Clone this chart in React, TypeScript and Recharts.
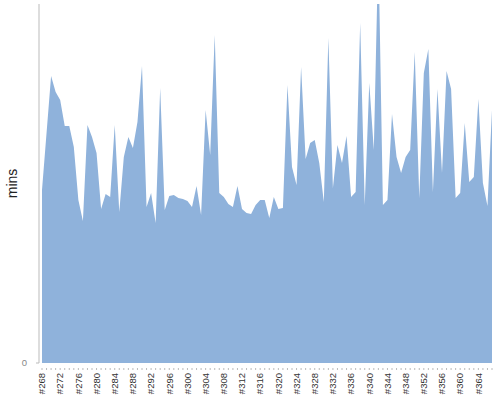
import { AreaChart, Area, XAxis, YAxis, Label } from 'recharts';

// build numbers along the bottom
const builds = [
  '#268', '#269', '#270', '#271', '#272', '#273', '#274', '#275', '#276', '#277',
  '#278', '#279', '#280', '#281', '#282', '#283', '#284', '#285', '#286', '#287',
  '#288', '#289', '#290', '#291', '#292', '#293', '#294', '#295', '#296', '#297',
  '#298', '#299', '#300', '#301', '#302', '#303', '#304', '#305', '#306', '#307',
  '#308', '#309', '#310', '#311', '#312', '#313', '#314', '#315', '#316', '#317',
  '#318', '#319', '#320', '#321', '#322', '#323', '#324', '#325', '#326', '#327',
  '#328', '#329', '#330', '#331', '#332', '#333', '#334', '#335', '#336', '#337',
  '#338', '#339', '#340', '#341', '#342', '#343', '#344', '#345', '#346', '#347',
  '#348', '#349', '#350', '#351', '#352', '#353', '#354', '#355', '#356', '#357',
  '#358', '#359', '#360', '#361', '#362', '#363', '#364', '#365', '#366', '#367',
];

// build duration in minutes
const buildMins = [
  17.3, 23.0, 28.7, 27.1, 26.3, 23.7, 23.7, 21.6, 16.3, 14.2,
  23.8, 22.6, 21.0, 15.4, 16.9, 16.6, 23.8, 15.1, 20.6, 22.6,
  21.5, 24.1, 29.7, 15.6, 17.0, 14.0, 27.5, 15.3, 16.7, 16.8,
  16.5, 16.4, 16.2, 15.6, 17.7, 14.8, 25.3, 20.8, 32.8, 17.0,
  16.6, 15.9, 15.6, 17.7, 15.4, 15.0, 14.9, 15.8, 16.3, 16.3,
  14.5, 16.6, 15.4, 15.5, 27.8, 19.6, 17.8, 29.6, 20.4, 22.0,
  22.3, 20.0, 16.1, 32.5, 17.5, 21.8, 20.0, 22.7, 16.6, 17.1,
  34.0, 15.8, 28.0, 21.3, 41.7, 15.8, 16.3, 24.9, 20.6, 19.0,
  20.6, 21.3, 31.1, 16.5, 29.0, 31.4, 17.1, 27.4, 19.0, 29.2,
  27.4, 16.5, 17.0, 24.0, 18.1, 18.6, 26.4, 18.0, 15.7, 25.3,
];

const yTicks = [0];
const yMax = 35.9;
const labelEvery = 4;

const data = builds.map((build, i) => ({ build, mins: buildMins[i] }));

const font = '"Liberation Sans", Arial, sans-serif';

function BuildTick(props: { x: number; y: number; index: number; payload: { value: string } }) {
  const { x, y, index, payload } = props;
  const ty = y + 10;
  return (
    <g>
      <line x1={x} x2={x} y1={y + 5} y2={y + 7} stroke="#bbb" />
      {index % labelEvery === 0 && (
        <text
          x={x}
          y={ty}
          dy="0.35em"
          transform={`rotate(-90, ${x}, ${ty})`}
          textAnchor="end"
          fontSize={9.5}
          fontFamily={font}
          fill="#333"
        >
          {payload.value}
        </text>
      )}
    </g>
  );
}

export default function App() {
  return (
    <div style={{ position: 'absolute', left: 0, top: 0 }}>
      <AreaChart
        width={500}
        height={400}
        data={data}
        margin={{ top: 4, right: 8, bottom: 0, left: 0 }}
      >
        <XAxis
          dataKey="build"
          interval={0}
          height={37}
          axisLine={false}
          tickLine={false}
          tickSize={0}
          tickMargin={0}
          padding={{ left: 3, right: 0 }}
          tick={(p: any) => <BuildTick {...p} />}
        />
        <YAxis
          width={39}
          domain={[0, yMax]}
          allowDataOverflow
          ticks={yTicks}
          axisLine={{ stroke: '#bbb' }}
          tickLine={{ stroke: '#bbb' }}
          tickSize={3}
          tickMargin={9}
          tick={{ fontSize: 9.5, fontFamily: font, fill: '#888' }}
        >
          <Label
            content={(p: any) => {
              const vb = p.viewBox as { x: number; y: number; height: number };
              const lx = vb.x + 17;
              const ly = vb.y + vb.height / 2;
              return (
                <text
                  x={lx}
                  y={ly}
                  transform={`rotate(-90, ${lx}, ${ly})`}
                  textAnchor="middle"
                  fontSize={14}
                  fontFamily={font}
                  fill="#222"
                >
                  mins
                </text>
              );
            }}
          />
        </YAxis>
        <Area
          type="linear"
          dataKey="mins"
          stroke="none"
          fill="#8fb2db"
          fillOpacity={1}
          isAnimationActive={false}
        />
      </AreaChart>
    </div>
  );
}
